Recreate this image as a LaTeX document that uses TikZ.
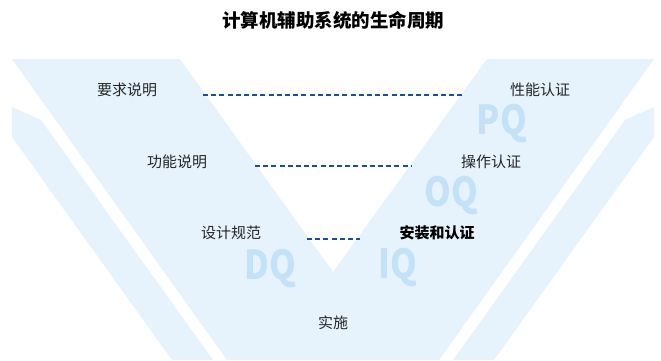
\documentclass[tikz,border=0pt]{standalone}
\usepackage{fontspec}
\usepackage{xcolor}
\setmainfont{Noto Sans CJK SC}
\definecolor{bandblue}{HTML}{E6F3FC}
\definecolor{markblue}{HTML}{C4E2F7}
\definecolor{linkblue}{HTML}{1A4F9C}

\begin{document}
\begin{tikzpicture}[x=1pt,y=-1pt]
        \tikzstyle{band}=[fill=bandblue]
        \tikzstyle{stage}=[font=\fontsize{15}{15}\selectfont,text=black!85,inner sep=0pt]
        \tikzstyle{watermark}=[font=\fontsize{40}{40}\selectfont\bfseries,text=markblue,inner sep=0pt,xscale=0.85,transform shape]
        \tikzstyle{link}=[linkblue,line width=2.6pt,dash pattern=on 5pt off 3.2pt]
        \useasboundingbox (0,0) rectangle (661,360);
        % bands
        \fill[band] (12,59) -- (180,59) -- (333,272) -- (487,59) -- (654,59) -- (439,360) -- (227,360) -- cycle;
        \fill[band] (12,107) -- (41,120) -- (213,360) -- (172,360) -- (12,137) -- cycle;
        \fill[band] (654,107) -- (625,120) -- (453,360) -- (494,360) -- (654,137) -- cycle;
        % watermarks
        \node[watermark] (pq) at (502,124) {PQ};
        \node[watermark] (oq) at (451,196) {OQ};
        \node[watermark] (iq) at (398,268) {IQ};
        \node[watermark] (dq) at (270,269) {DQ};
        \node[font=\fontsize{18.5}{18.5}\selectfont\bfseries] (title) at (333,20) {计算机辅助系统的生命周期};
        \node[stage] (req) at (127,90) {要求说明};
        \node[stage] (func) at (177,162) {功能说明};
        \node[stage] (spec) at (231,233) {设计规范};
        \node[stage] (perf) at (540,90) {性能认证};
        \node[stage] (oper) at (491,162) {操作认证};
        \node[stage,text=black,font=\fontsize{15}{15}\selectfont\bfseries] (inst) at (437,233) {安装和认证};
        \node[stage] (impl) at (333,323) {实施};
        % links
        \coordinate (reqend) at (203,95);
        \coordinate (perfend) at (463,95);
        \coordinate (funcend) at (255,166);
        \coordinate (operend) at (412,166);
        \coordinate (specend) at (307,239);
        \coordinate (instend) at (360,239);
        \draw[link] (reqend) -- (perfend);
        \draw[link] (funcend) -- (operend);
        \draw[link] (specend) -- (instend);
    \end{tikzpicture}
\end{document}
